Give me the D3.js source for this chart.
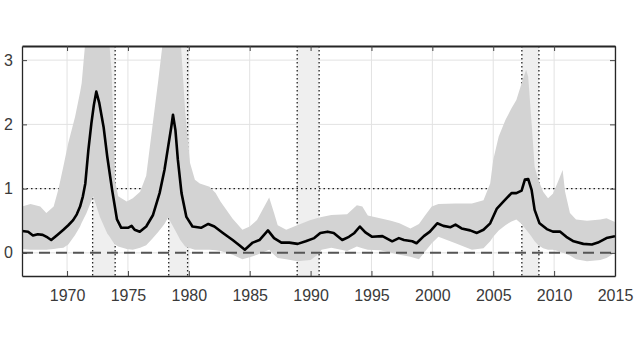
<!DOCTYPE html>
<html lang="en">
<head>
<meta charset="utf-8">
<title>Chart</title>
<script src="https://d3js.org/d3.v7.min.js"></script>
<style>
  body { margin: 0; background: #fff; }
  text { font-family: "Liberation Sans", Arial, sans-serif; }
</style>
</head>
<body>
<div id="chart"></div>
<script type="text/javascript">
// median path
var lineYears = [1966.3, 1966.8, 1967.2, 1967.6, 1968.0, 1968.4, 1968.7, 1969.2, 1969.7, 1970.1,
  1970.5, 1970.8, 1971.07, 1971.3, 1971.5, 1971.75, 1972.0, 1972.2, 1972.4, 1972.65,
  1973.0, 1973.3, 1973.7, 1974.1, 1974.45, 1975.0, 1975.3, 1975.55, 1975.97, 1976.5,
  1977.06, 1977.6, 1978.0, 1978.3, 1978.56, 1978.7, 1978.9, 1979.1, 1979.4, 1979.8,
  1980.3, 1981.0, 1981.6, 1982.1, 1982.8, 1983.6, 1984.15, 1984.6, 1985.25, 1985.8,
  1986.5, 1987.0, 1987.6, 1988.25, 1988.94, 1989.6, 1990.3, 1990.8, 1991.4, 1991.9,
  1992.6, 1993.15, 1993.6, 1994.05, 1994.5, 1995.06, 1995.9, 1996.7, 1997.25, 1997.67,
  1998.35, 1998.7, 1999.3, 1999.8, 2000.4, 2000.9, 2001.5, 2001.9, 2002.4, 2003.1,
  2003.66, 2004.2, 2004.75, 2005.3, 2005.85, 2006.5, 2006.9, 2007.33, 2007.6, 2007.87,
  2008.15, 2008.4, 2008.8, 2009.4, 2009.9, 2010.5, 2011.0, 2011.6, 2012.4, 2013.1,
  2013.6, 2014.3, 2015.0];
var lineVals = [0.34, 0.33, 0.27, 0.29, 0.28, 0.24, 0.20, 0.28, 0.36, 0.43,
  0.51, 0.60, 0.72, 0.88, 1.08, 1.60, 2.02, 2.30, 2.51, 2.33,
  1.96, 1.50, 0.98, 0.52, 0.39, 0.39, 0.42, 0.36, 0.33, 0.41,
  0.59, 0.93, 1.29, 1.65, 1.96, 2.15, 1.91, 1.45, 0.93, 0.56,
  0.41, 0.39, 0.45, 0.41, 0.31, 0.20, 0.12, 0.05, 0.16, 0.20,
  0.35, 0.23, 0.16, 0.16, 0.14, 0.18, 0.23, 0.31, 0.33, 0.31,
  0.20, 0.25, 0.31, 0.41, 0.32, 0.25, 0.26, 0.18, 0.23, 0.20,
  0.18, 0.15, 0.26, 0.33, 0.46, 0.42, 0.40, 0.44, 0.38, 0.35,
  0.31, 0.36, 0.46, 0.69, 0.80, 0.93, 0.93, 0.97, 1.14, 1.15,
  0.98, 0.67, 0.46, 0.37, 0.33, 0.33, 0.25, 0.18, 0.14, 0.13,
  0.16, 0.23, 0.26];

// confidence band
var bandYears = [1966.3, 1967.0, 1967.8, 1968.3, 1968.9, 1969.3, 1969.7, 1970.1, 1970.66, 1971.07,
  1971.2, 1971.6, 1972.15, 1972.7, 1973.3, 1973.5, 1973.67, 1973.8, 1973.94, 1974.2,
  1974.9, 1975.4, 1976.0, 1976.5, 1977.0, 1977.5, 1978.0, 1978.3, 1979.0, 1979.3,
  1979.7, 1980.1, 1980.5, 1980.9, 1981.7, 1982.2, 1982.6, 1983.6, 1984.4, 1985.0,
  1985.6, 1986.0, 1986.6, 1987.0, 1987.3, 1988.0, 1988.9, 1990.0, 1990.5, 1990.9,
  1991.7, 1993.0, 1993.8, 1994.25, 1994.7, 1995.7, 1996.6, 1997.3, 1998.2, 1998.9,
  1999.4, 1999.95, 2000.5, 2001.9, 2003.25, 2004.2, 2004.75, 2005.0, 2005.45, 2006.0,
  2006.5, 2006.9, 2007.33, 2007.7, 2007.87, 2008.15, 2008.4, 2008.7, 2009.1, 2009.5,
  2009.9, 2010.3, 2010.7, 2010.9, 2011.3, 2011.8, 2012.7, 2013.8, 2014.3, 2015.0];
var bandLow = [0.06, 0.05, 0.05, 0.05, 0.06, 0.07, 0.08, 0.13, 0.28, 0.41,
  0.47, 0.62, 0.88, 0.56, 0.30, 0.25, 0.20, 0.16, 0.13, 0.10,
  0.06, 0.05, 0.08, 0.12, 0.22, 0.33, 0.45, 0.55, 0.31, 0.20,
  0.10, 0.07, 0.05, 0.05, 0.05, 0.04, 0.03, -0.03, -0.10, -0.07,
  -0.03, 0.00, 0.05, -0.03, -0.08, -0.10, -0.13, -0.11, -0.04, 0.05,
  0.08, 0.03, 0.10, 0.07, 0.05, 0.04, 0.00, -0.03, -0.06, -0.10,
  0.02, 0.15, 0.25, 0.15, 0.05, 0.07, 0.18, 0.25, 0.35, 0.43,
  0.49, 0.52, 0.45, 0.36, 0.32, 0.25, 0.18, 0.12, 0.07, 0.05,
  0.05, 0.03, 0.00, -0.01, -0.04, -0.10, -0.13, -0.11, -0.08, 0.00];
var bandHigh = [0.72, 0.76, 0.72, 0.62, 0.72, 1.00, 1.35, 1.71, 2.12, 2.50,
  2.64, 3.50, 3.50, 3.50, 3.50, 3.20, 2.79, 1.91, 1.13, 0.88,
  0.80, 0.85, 0.95, 1.20, 1.95, 2.70, 3.50, 3.50, 3.50, 3.40,
  2.20, 1.40, 1.14, 1.08, 1.03, 0.93, 0.80, 0.53, 0.36, 0.41,
  0.51, 0.65, 0.86, 0.62, 0.43, 0.36, 0.43, 0.51, 0.54, 0.56,
  0.59, 0.60, 0.74, 0.72, 0.58, 0.54, 0.50, 0.46, 0.38, 0.45,
  0.58, 0.72, 0.76, 0.77, 0.77, 0.82, 1.08, 1.45, 1.81, 2.07,
  2.25, 2.38, 2.64, 2.85, 2.74, 2.02, 1.34, 1.14, 0.95, 0.85,
  0.92, 1.10, 1.29, 0.95, 0.62, 0.52, 0.50, 0.52, 0.54, 0.48];

// shaded periods
var shadeStart = [1972.1, 1978.35, 1988.9, 2007.35];
var shadeEnd = [1973.95, 1979.9, 1990.7, 2008.75];

var xTicks = [1970, 1975, 1980, 1985, 1990, 1995, 2000, 2005, 2010, 2015];
var yTicks = [0, 1, 2, 3];

var width = 640, height = 350;
var margin = {top: 46, right: 25, bottom: 74, left: 22};

var svg = d3.select("#chart").append("svg")
    .attr("width", width)
    .attr("height", height);

var x = d3.scaleLinear().domain([1966.3, 2015]).range([margin.left, width - margin.right]);
var y = d3.scaleLinear().domain([-0.36, 3.22]).range([height - margin.bottom, margin.top]);

svg.append("defs").append("clipPath").attr("id", "clip")
  .append("rect")
    .attr("x", x.range()[0]).attr("y", y.range()[1])
    .attr("width", x.range()[1] - x.range()[0])
    .attr("height", y.range()[0] - y.range()[1]);

var plot = svg.append("g").attr("clip-path", "url(#clip)");

// grid
plot.append("g").selectAll("line").data(xTicks).join("line")
    .attr("x1", d => x(d)).attr("x2", d => x(d))
    .attr("y1", y.range()[1]).attr("y2", y.range()[0])
    .attr("stroke", "#e2e2e2").attr("stroke-width", 1);
plot.append("g").selectAll("line").data(yTicks).join("line")
    .attr("x1", x.range()[0]).attr("x2", x.range()[1])
    .attr("y1", d => y(d)).attr("y2", d => y(d))
    .attr("stroke", "#e2e2e2").attr("stroke-width", 1);

// shaded periods
var periods = shadeStart.map((s, i) => ({s: s, e: shadeEnd[i]}));
plot.append("g").selectAll("rect").data(periods).join("rect")
    .attr("x", d => x(d.s)).attr("width", d => x(d.e) - x(d.s))
    .attr("y", y.range()[1]).attr("height", y.range()[0] - y.range()[1])
    .attr("fill", "#efefef");

var edges = [];
periods.forEach(p => { edges.push(p.s); edges.push(p.e); });
plot.append("g").selectAll("line").data(edges).join("line")
    .attr("x1", d => x(d)).attr("x2", d => x(d))
    .attr("y1", y.range()[1]).attr("y2", y.range()[0])
    .attr("stroke", "#222").attr("stroke-width", 1.3)
    .attr("stroke-dasharray", "1.5,2.5");

// reference line at 1
plot.append("line")
    .attr("x1", x.range()[0]).attr("x2", x.range()[1])
    .attr("y1", y(1)).attr("y2", y(1))
    .attr("stroke", "#222").attr("stroke-width", 1.3)
    .attr("stroke-dasharray", "1.5,3");

// band
var band = bandYears.map((t, i) => ({t: t, lo: bandLow[i], hi: bandHigh[i]}));
plot.append("path").datum(band)
    .attr("fill", "#d3d3d3")
    .attr("d", d3.area().x(d => x(d.t)).y0(d => y(d.lo)).y1(d => y(d.hi)));

// zero line
plot.append("line")
    .attr("x1", x.range()[0]).attr("x2", x.range()[1])
    .attr("y1", y(0)).attr("y2", y(0))
    .attr("stroke", "#555").attr("stroke-width", 2)
    .attr("stroke-dasharray", "11,6");

// median
var pts = lineYears.map((t, i) => [t, lineVals[i]]);
plot.append("path").datum(pts)
    .attr("fill", "none").attr("stroke", "#000").attr("stroke-width", 2.6)
    .attr("stroke-linejoin", "round")
    .attr("d", d3.line().x(d => x(d[0])).y(d => y(d[1])));

// axes
var xb = d3.axisBottom(x).tickValues(xTicks).tickFormat(d3.format("d")).tickSizeInner(-5).tickSizeOuter(0).tickPadding(14);
var yl = d3.axisLeft(y).tickValues(yTicks).tickFormat(d3.format("d")).tickSizeInner(-5).tickSizeOuter(0).tickPadding(9);
var xt = d3.axisTop(x).tickValues(xTicks).tickFormat("").tickSizeInner(-5).tickSizeOuter(0);
var yr = d3.axisRight(y).tickValues(yTicks).tickFormat("").tickSizeInner(-5).tickSizeOuter(0);

function style(g) {
  g.select(".domain").attr("stroke", "#262626").attr("stroke-width", 1.3);
  g.selectAll(".tick line").attr("stroke", "#444");
  g.selectAll("text").attr("fill", "#3a3a3a").style("font-size", "16px");
}

svg.append("g").attr("transform", "translate(0," + y.range()[0] + ")").call(xb).call(style);
svg.append("g").attr("transform", "translate(" + x.range()[0] + ",0)").call(yl).call(style);
svg.append("g").attr("transform", "translate(0," + y.range()[1] + ")").call(xt).call(style)
  .select(".domain").attr("stroke-width", 2);
svg.append("g").attr("transform", "translate(" + x.range()[1] + ",0)").call(yr).call(style);
</script>
</body>
</html>
